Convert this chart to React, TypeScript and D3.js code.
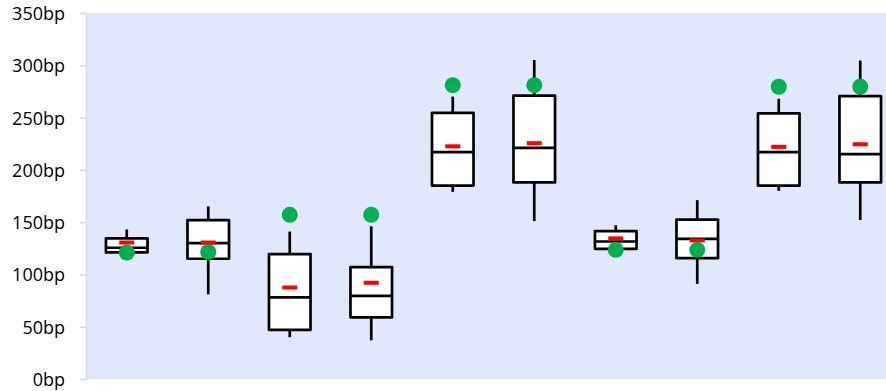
import React, { useEffect, useRef } from 'react';
import * as d3 from 'd3';

// ten groups, no labels shown on the x axis
const categories = ['g1', 'g2', 'g3', 'g4', 'g5', 'g6', 'g7', 'g8', 'g9', 'g10'];
const lows = [120, 81, 40, 37, 179, 151, 122, 91, 180, 152];
const q1s = [121, 115, 47, 59, 185, 188, 124.5, 115.5, 185, 188];
const medians = [125.5, 130, 78, 79.5, 217, 221, 131.5, 134, 217, 215];
const q3s = [134.5, 152, 119.5, 107, 254.5, 271, 141.5, 152.5, 254, 270.5];
const highs = [143, 165, 141, 146, 270, 305, 147, 171, 268, 304.5];
const means = [130.5, 130.5, 87.5, 92, 222.5, 225.5, 134.5, 132.5, 222, 224.5];
const targets = [121, 121.5, 157, 157, 281, 281, 123.5, 123.5, 279.5, 279.5];
const yTicks = [0, 50, 100, 150, 200, 250, 300, 350];

const App = () => {
  const ref = useRef<SVGSVGElement>(null);

  useEffect(() => {
    const width = 886;
    const height = 391;
    const margin = { top: 13, bottom: 12, left: 86 };

    const svg = d3.select(ref.current);
    svg.selectAll('*').remove();

    const x = d3.scaleBand<string>()
      .domain(categories)
      .range([margin.left, 901])
      .padding(0);

    const y = d3.scaleLinear()
      .domain([0, 350])
      .range([height - margin.bottom, margin.top]);

    // plot background
    svg.append('rect')
      .attr('x', margin.left)
      .attr('y', y(350))
      .attr('width', width - margin.left)
      .attr('height', y(0) - y(350))
      .attr('fill', '#e1e8fb');

    // y axis
    const yAxis = svg.append('g')
      .attr('transform', `translate(${margin.left},0)`)
      .call(d3.axisLeft(y).tickValues(yTicks).tickSize(6).tickPadding(15).tickFormat(d => `${d}bp`));
    yAxis.select('.domain').attr('stroke', '#d9d9d9').attr('stroke-width', 1.5);
    yAxis.selectAll('.tick line').attr('stroke', '#d9d9d9').attr('stroke-width', 1.5);
    yAxis.selectAll('.tick text')
      .attr('font-family', '"Open Sans", sans-serif')
      .attr('font-size', 18)
      .attr('fill', '#000')
      .attr('dy', '0.36em');

    const data = categories.map((c, i) => ({
      c,
      low: lows[i],
      q1: q1s[i],
      median: medians[i],
      q3: q3s[i],
      high: highs[i],
      mean: means[i],
      target: targets[i],
    }));

    const bw = x.bandwidth() * 0.51;
    const cx = (c: string) => (x(c) as number) + x.bandwidth() / 2;

    const g = svg.append('g').selectAll('g').data(data).join('g');

    // whiskers
    g.append('line')
      .attr('x1', d => cx(d.c)).attr('x2', d => cx(d.c))
      .attr('y1', d => y(d.high)).attr('y2', d => y(d.q3))
      .attr('stroke', '#000').attr('stroke-width', 2.7);
    g.append('line')
      .attr('x1', d => cx(d.c)).attr('x2', d => cx(d.c))
      .attr('y1', d => y(d.q1)).attr('y2', d => y(d.low))
      .attr('stroke', '#000').attr('stroke-width', 2.7);

    // boxes
    g.append('rect')
      .attr('x', d => cx(d.c) - bw / 2)
      .attr('y', d => y(d.q3))
      .attr('width', bw)
      .attr('height', d => y(d.q1) - y(d.q3))
      .attr('fill', '#fff')
      .attr('stroke', '#000')
      .attr('stroke-width', 2.7)
      .attr('stroke-linejoin', 'round');

    // median
    g.append('line')
      .attr('x1', d => cx(d.c) - bw / 2).attr('x2', d => cx(d.c) + bw / 2)
      .attr('y1', d => y(d.median)).attr('y2', d => y(d.median))
      .attr('stroke', '#000').attr('stroke-width', 2.7);

    // mean marker
    g.append('rect')
      .attr('x', d => cx(d.c) - 7.5)
      .attr('y', d => y(d.mean) - 2)
      .attr('width', 15)
      .attr('height', 4)
      .attr('fill', '#ff0000');

    // green point
    g.append('circle')
      .attr('cx', d => cx(d.c))
      .attr('cy', d => y(d.target))
      .attr('r', 8)
      .attr('fill', '#00b050');
  }, []);

  return (
    <svg ref={ref} width={886} height={391} style={{ display: 'block', position: 'absolute', left: 0, top: 0 }} />
  );
};

export default App;
